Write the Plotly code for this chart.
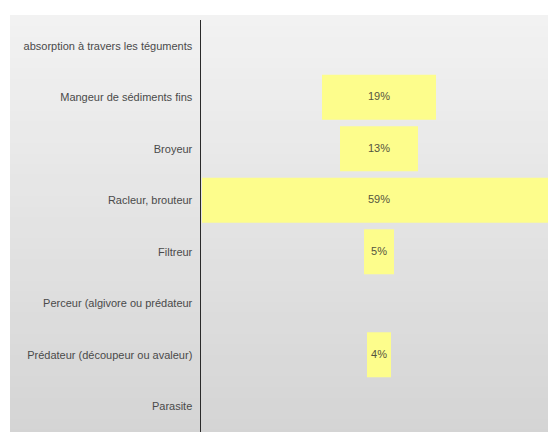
import plotly.graph_objects as go

categories = [
    "absorption à travers les téguments",
    "Mangeur de sédiments fins",
    "Broyeur",
    "Racleur, brouteur",
    "Filtreur",
    "Perceur (algivore ou prédateur",
    "Prédateur (découpeur ou avaleur)",
    "Parasite",
]
values = [0, 19, 13, 59, 5, 0, 4, 0]
labels = [f"{v}%" if v else "" for v in values]

W, H = 548, 432
ML, MT = 201, 20
pw, ph = W - ML, H - MT
CX = 379
SCALE = 6.0

fig = go.Figure()
fig.add_trace(go.Bar(
    y=categories, x=values, base=[-v / 2 for v in values],
    orientation="h", marker=dict(color="#fdfd8c", line=dict(width=0)),
    hoverinfo="skip", showlegend=False,
))
fig.add_trace(go.Scatter(
    y=categories, x=[0] * len(categories), text=labels, mode="text",
    textfont=dict(family="Liberation Sans, Arial", size=11, color="#55553f"),
    hoverinfo="skip", showlegend=False,
))

# background gradient (style only), overlapping rects to avoid seams
shapes = []
x0p = (10 - ML) / pw
y_top = 1 + (MT - 15) / ph
N = 40
for i in range(N):
    t = i / (N - 1)
    c = int(round(242 - (242 - 212) * t))
    ya = y_top - (y_top + 0.02) * i / N
    shapes.append(dict(type="rect", xref="paper", yref="paper", x0=x0p, x1=1.05,
                       y0=-0.05, y1=ya, fillcolor=f"rgb({c},{c},{c})",
                       line=dict(width=0), layer="below"))

fig.update_layout(
    width=W, height=H,
    margin=dict(l=ML, r=0, t=MT, b=0, autoexpand=False),
    paper_bgcolor="white", plot_bgcolor="rgba(0,0,0,0)",
    bargap=0.13, shapes=shapes,
    font=dict(family="Liberation Sans, Arial", size=11, color="#4a4a4a"),
    xaxis=dict(range=[-(CX - ML) / SCALE, (W - CX) / SCALE], visible=False,
               showgrid=False, zeroline=False, fixedrange=True),
    yaxis=dict(categoryorder="array", categoryarray=categories,
               range=[len(categories) - 0.5, -0.5],
               showline=True, linecolor="#2a2a2a", linewidth=1.5, showgrid=False,
               ticks="", ticklabelstandoff=5, automargin=False,
               tickfont=dict(family="Liberation Sans, Arial", size=11, color="#4a4a4a")),
)

fig.write_html(
    "out.html",
    config={"displayModeBar": False, "staticPlot": True},
    post_script="document.body.style.margin='0';document.body.style.overflow='hidden';",
)
